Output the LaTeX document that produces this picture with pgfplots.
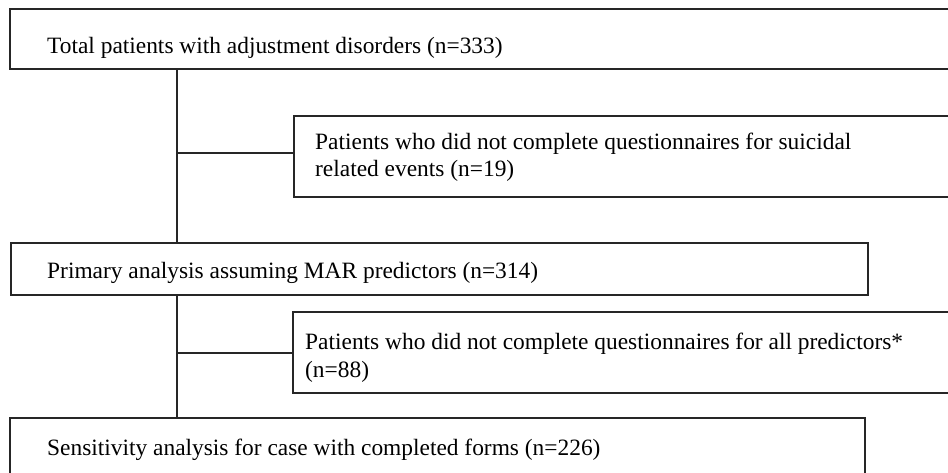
\documentclass[border=0pt]{standalone}
\usepackage{fontspec}
\setmainfont{Liberation Serif}
\usepackage{pgfplots}
\pgfplotsset{compat=1.18}
\tikzset{fl/.style={draw=black!85, line width=1.6pt, line join=miter, line cap=rect, mark=none, solid}}
\begin{document}
\begin{tikzpicture}
\useasboundingbox (0,0) rectangle (948pt,472pt);
\begin{axis}[
  at={(0,0)}, anchor=south west,
  width=948pt, height=472pt, scale only axis,
  xmin=0, xmax=948, ymin=0, ymax=472,
  y dir=reverse,
  hide axis,
  clip=true,
]
% boxes
\addplot[fl] coordinates {(10,9) (965,9) (965,69) (10,69) (10,9)};
\addplot[fl] coordinates {(294,116) (965,116) (965,197) (294,197) (294,116)};
\addplot[fl] coordinates {(11,243) (868,243) (868,295) (11,295) (11,243)};
\addplot[fl] coordinates {(293,312) (965,312) (965,393) (293,393) (293,312)};
\addplot[fl] coordinates {(10,418) (865,418) (865,485) (10,485) (10,418)};
% connectors
\addplot[fl] coordinates {(177,69) (177,243)};
\addplot[fl] coordinates {(177,153) (294,153)};
\addplot[fl] coordinates {(177,295) (177,418)};
\addplot[fl] coordinates {(177,353) (293,353)};
% texts
\begin{scope}[every node/.style={anchor=base west, inner sep=0pt, font=\fontsize{23.4}{28}\selectfont, text=black}]
\node at (axis cs:47,53) {Total patients with adjustment disorders (n=333)};
\node at (axis cs:315,149) {Patients who did not complete questionnaires for suicidal};
\node at (axis cs:315,176) {related events (n=19)};
\node at (axis cs:47,278) {Primary analysis assuming MAR predictors (n=314)};
\node at (axis cs:305,349) {Patients who did not complete questionnaires for all predictors*};
\node at (axis cs:305,377) {(n=88)};
\node at (axis cs:47,455) {Sensitivity analysis for case with completed forms (n=226)};
\end{scope}
\end{axis}
\end{tikzpicture}
\end{document}
